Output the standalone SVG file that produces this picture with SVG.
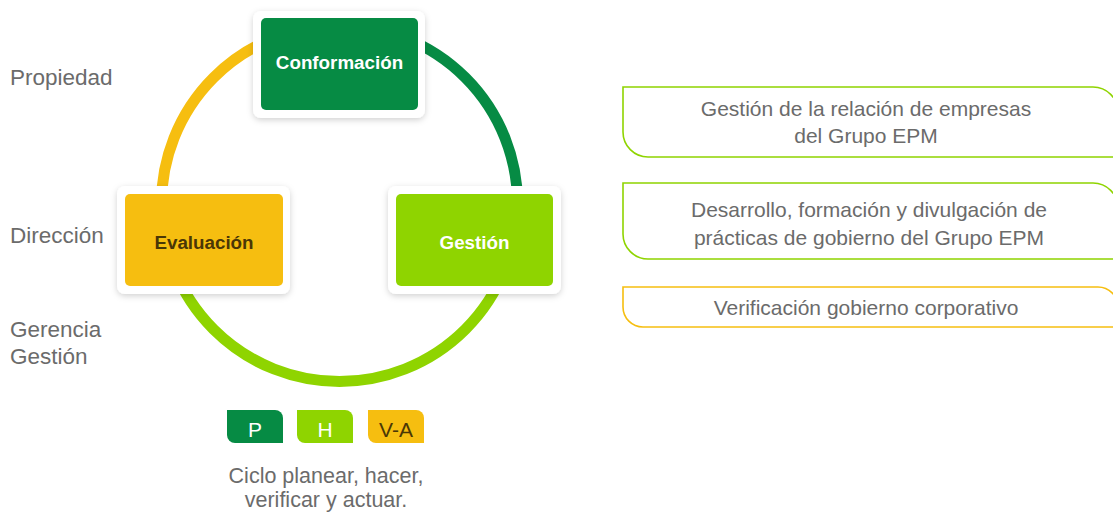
<svg xmlns="http://www.w3.org/2000/svg" width="1113" height="518" viewBox="0 0 1113 518">
  <defs>
    <filter id="sh" x="-20%" y="-20%" width="140%" height="150%">
      <feDropShadow dx="0" dy="2" stdDeviation="3" flood-color="#000" flood-opacity="0.18"/>
    </filter>
    <style>
      .lbl{font-family:"Liberation Sans",Arial,sans-serif;font-size:22.5px;fill:#6b6b6b}
      .cap{font-family:"Liberation Sans",Arial,sans-serif;font-size:21.5px;fill:#6b6b6b;text-anchor:middle}
      .pnl{font-family:"Liberation Sans",Arial,sans-serif;font-size:21px;fill:#6b6b6b;text-anchor:middle}
      .node{font-family:"Liberation Sans",Arial,sans-serif;font-size:18.8px;font-weight:bold;text-anchor:middle}
      .badge{font-family:"Liberation Sans",Arial,sans-serif;font-size:21px;text-anchor:middle}
      .card{fill:#fff;filter:url(#sh)}
      .ring{fill:none;stroke-width:11}
      .frame{fill:#fff;stroke-width:1.6}
    </style>
  </defs>

  <g id="connectors">
    <path class="ring" stroke="#F6BE10" d="M 161.5 203.5 A 178 178 0 0 1 339.5 25.5"/>
    <path class="ring" stroke="#068B44" d="M 339.5 25.5 A 178 178 0 0 1 517.5 203.5"/>
    <path class="ring" stroke="#8FD400" d="M 517.5 203.5 A 178 178 0 0 1 161.5 203.5"/>
  </g>

  <g id="labels">
    <text class="lbl" x="10" y="85">Propiedad</text>
    <text class="lbl" x="10" y="243">Dirección</text>
    <text class="lbl" x="10" y="337">Gerencia</text>
    <text class="lbl" x="10" y="364">Gestión</text>
  </g>

  <g id="conformacion">
    <rect class="card" x="253" y="11" width="172" height="107" rx="8"/>
    <rect x="261" y="18" width="157" height="92" rx="5" fill="#068B44"/>
    <text class="node" x="339.5" y="69" fill="#fff">Conformación</text>
  </g>

  <g id="evaluacion">
    <rect class="card" x="117" y="186" width="173" height="108" rx="8"/>
    <rect x="125" y="194" width="158" height="92" rx="5" fill="#F6BE10"/>
    <text class="node" x="204" y="249" fill="#4A3706">Evaluación</text>
  </g>

  <g id="gestion">
    <rect class="card" x="388" y="186" width="173" height="108" rx="8"/>
    <rect x="396" y="194" width="157" height="92" rx="5" fill="#8FD400"/>
    <text class="node" x="474.5" y="249" fill="#fff">Gestión</text>
  </g>

  <g id="panel1">
    <path class="frame" stroke="#8FD400" d="M 623 87 H 1093 A 25 25 0 0 1 1118 112 V 157 H 648 A 25 25 0 0 1 623 132 Z"/>
    <text class="pnl" x="866" y="116">Gestión de la relación de empresas</text>
    <text class="pnl" x="866" y="143">del Grupo EPM</text>
  </g>

  <g id="panel2">
    <path class="frame" stroke="#8FD400" d="M 623 183 H 1093 A 25 25 0 0 1 1118 208 V 259 H 648 A 25 25 0 0 1 623 234 Z"/>
    <text class="pnl" x="869" y="217">Desarrollo, formación y divulgación de</text>
    <text class="pnl" x="869" y="245">prácticas de gobierno del Grupo EPM</text>
  </g>

  <g id="panel3">
    <path class="frame" stroke="#F6BE10" d="M 623 287 H 1098 A 20 20 0 0 1 1118 307 V 327 H 643 A 20 20 0 0 1 623 307 Z"/>
    <text class="pnl" x="866" y="315">Verificación gobierno corporativo</text>
  </g>

  <g id="badge-p">
    <path fill="#068B44" d="M 227 410 H 275 A 8 8 0 0 1 283 418 V 443 H 235 A 8 8 0 0 1 227 435 Z"/>
    <text class="badge" x="255" y="437" fill="#fff">P</text>
  </g>
  <g id="badge-h">
    <path fill="#8FD400" d="M 297 410 H 345 A 8 8 0 0 1 353 418 V 443 H 305 A 8 8 0 0 1 297 435 Z"/>
    <text class="badge" x="325" y="437" fill="#fff">H</text>
  </g>
  <g id="badge-va">
    <path fill="#F6BE10" d="M 368 410 H 416 A 8 8 0 0 1 424 418 V 443 H 376 A 8 8 0 0 1 368 435 Z"/>
    <text class="badge" x="396" y="437" fill="#4A3706">V-A</text>
  </g>

  <g id="caption">
    <text class="cap" x="326" y="483">Ciclo planear, hacer,</text>
    <text class="cap" x="326" y="507">verificar y actuar.</text>
  </g>
</svg>
